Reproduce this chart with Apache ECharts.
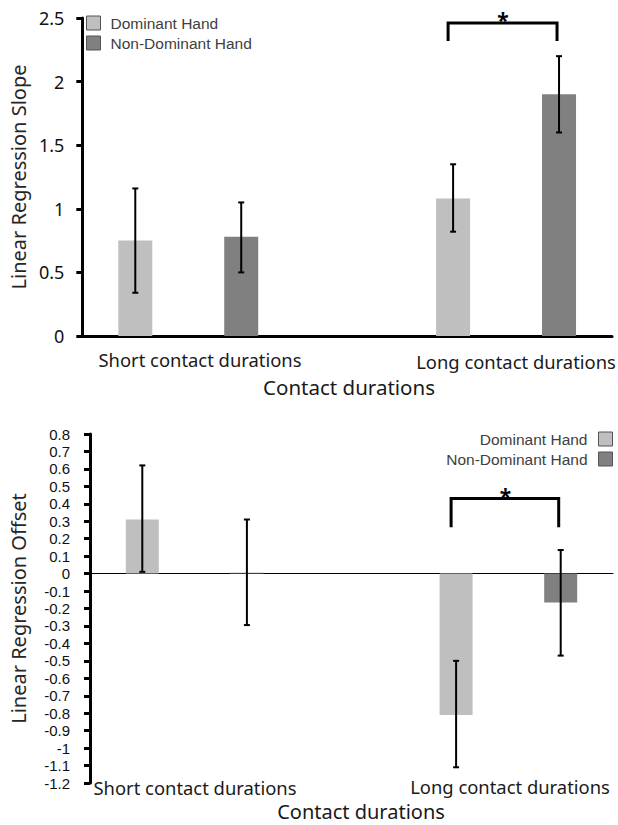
<!DOCTYPE html>
<html>
<head>
<meta charset="utf-8">
<script src="https://cdn.jsdelivr.net/npm/echarts@6/dist/echarts.min.js"></script>
<style>
  html, body { margin: 0; padding: 0; background: #fff; }
  #chart { width: 618px; height: 825px; }
</style>
</head>
<body>
<div id="chart"></div>
<script>
// five slots on the x axis: two bars per group with an empty slot between groups
const slots = ['shortDom', 'shortNonDom', 'gap', 'longDom', 'longNonDom'];

const slopeDominant = [0.75, null, null, 1.08, null];
const slopeNonDominant = [null, 0.78, null, null, 1.9];
const slopeErr = [[0, 0.34, 1.16], [1, 0.50, 1.05], [3, 0.82, 1.35], [4, 1.60, 2.20]];
const slopeBracket = [[3, 4, 2.46, 2.32]];

const offsetDominant = [0.31, null, null, -0.81, null];
const offsetNonDominant = [null, 0.005, null, null, -0.165];
const offsetErr = [[0, 0.01, 0.62], [1, -0.295, 0.31], [3, -1.11, -0.50], [4, -0.47, 0.135]];
const offsetBracket = [[3, 4, 0.43, 0.265]];

const FONT = 'Noto Sans';
const TIGHT = 'Liberation Sans';
const LIGHT = '#bfbfbf';
const DARK = '#808080';

function errorBar(params, api) {
  const x = api.value(0);
  const lo = api.coord([x, api.value(1)]);
  const hi = api.coord([x, api.value(2)]);
  const cap = 3;
  const style = { stroke: '#000', lineWidth: 2 };
  return {
    type: 'group',
    children: [
      { type: 'line', shape: { x1: lo[0], y1: lo[1], x2: hi[0], y2: hi[1] }, style },
      { type: 'line', shape: { x1: lo[0] - cap, y1: lo[1], x2: lo[0] + cap, y2: lo[1] }, style },
      { type: 'line', shape: { x1: hi[0] - cap, y1: hi[1], x2: hi[0] + cap, y2: hi[1] }, style }
    ]
  };
}

function bracket(params, api) {
  const a = api.coord([api.value(0), api.value(2)]);
  const b = api.coord([api.value(1), api.value(2)]);
  const bottom = api.coord([api.value(0), api.value(3)])[1];
  return {
    type: 'group',
    children: [
      {
        type: 'polyline',
        shape: { points: [[a[0] - 5, bottom], [a[0] - 5, a[1]], [b[0] - 2, b[1]], [b[0] - 2, bottom]] },
        style: { stroke: '#000', lineWidth: 3, fill: null }
      },
      {
        type: 'text',
        style: {
          text: '*', x: (a[0] + b[0]) / 2 - 3, y: a[1] - 3,
          font: 'bold 21px ' + FONT, fill: '#000', align: 'center', verticalAlign: 'middle'
        }
      }
    ]
  };
}

const chart = echarts.init(document.getElementById('chart'), null, { renderer: 'svg' });

const legendText = { color: '#404040', fontSize: 15.5, fontFamily: TIGHT, lineHeight: 15 };

function label(text, x, y, size) {
  return {
    type: 'text', x, y,
    style: { text, font: size + 'px ' + FONT, fill: '#1a1a1a', align: 'center', verticalAlign: 'middle' }
  };
}

chart.setOption({
  animation: false,
  textStyle: { fontFamily: FONT },
  legend: [
    {
      orient: 'vertical', left: 86, top: 15, itemGap: 4, itemWidth: 14, itemHeight: 14,
      icon: 'rect', padding: 0,
      itemStyle: { borderColor: '#555', borderWidth: 1 },
      textStyle: Object.assign({}, legendText, { padding: [0, 0, 0, 5] }),
      data: ['Dominant Hand', 'Non-Dominant Hand']
    },
    {
      orient: 'vertical', right: 5, top: 431, itemGap: 4, itemWidth: 14, itemHeight: 14,
      icon: 'rect', align: 'right', padding: 0,
      itemStyle: { borderColor: '#555', borderWidth: 1 },
      textStyle: Object.assign({}, legendText, { padding: [0, 6, 0, 0] }),
      data: ['Dominant Hand', 'Non-Dominant Hand']
    }
  ],
  grid: [
    { left: 80, top: 18, width: 532, height: 318 },
    { left: 89, top: 434, width: 524, height: 349 }
  ],
  xAxis: [
    {
      type: 'category', gridIndex: 0, data: slots,
      axisLine: { lineStyle: { color: '#000', width: 3 } },
      axisTick: { show: false }, axisLabel: { show: false }
    },
    {
      type: 'category', gridIndex: 1, data: slots,
      axisLine: { onZero: true, lineStyle: { color: '#000', width: 1 } },
      axisTick: { show: false }, axisLabel: { show: false }
    }
  ],
  yAxis: [
    {
      type: 'value', gridIndex: 0, min: 0, max: 2.5, interval: 0.5,
      name: 'Linear Regression Slope', nameLocation: 'middle', nameGap: 54, nameRotate: 90,
      nameTextStyle: { color: '#262626', fontSize: 20, fontFamily: FONT },
      axisLine: { show: true, lineStyle: { color: '#000', width: 3 } },
      axisTick: { show: true, length: 6, lineStyle: { color: '#000', width: 3 } },
      splitLine: { show: false },
      axisLabel: { color: '#111', fontFamily: FONT, fontSize: 18, margin: 18 }
    },
    {
      type: 'value', gridIndex: 1, min: -1.2, max: 0.8, interval: 0.1,
      name: 'Linear Regression Offset', nameLocation: 'middle', nameGap: 62, nameRotate: 90,
      nameTextStyle: { color: '#262626', fontSize: 20, fontFamily: FONT },
      axisLine: { show: true, onZero: false, lineStyle: { color: '#000', width: 3 } },
      axisTick: { show: true, length: 6, lineStyle: { color: '#000', width: 3 } },
      splitLine: { show: false },
      axisLabel: {
        color: '#111', fontFamily: TIGHT, fontSize: 15, lineHeight: 15, margin: 20,
        formatter: v => String(parseFloat(v.toFixed(1)))
      }
    }
  ],
  series: [
    { name: 'Dominant Hand', type: 'bar', xAxisIndex: 0, yAxisIndex: 0, data: slopeDominant,
      barWidth: 34, barGap: '-100%', itemStyle: { color: LIGHT } },
    { name: 'Non-Dominant Hand', type: 'bar', xAxisIndex: 0, yAxisIndex: 0, data: slopeNonDominant,
      barWidth: 34, barGap: '-100%', itemStyle: { color: DARK } },
    { type: 'custom', xAxisIndex: 0, yAxisIndex: 0, data: slopeErr, renderItem: errorBar, z: 5 },
    { type: 'custom', xAxisIndex: 0, yAxisIndex: 0, data: slopeBracket, renderItem: bracket, z: 5 },

    { name: 'Dominant Hand', type: 'bar', xAxisIndex: 1, yAxisIndex: 1, data: offsetDominant,
      barWidth: 33, barGap: '-100%', itemStyle: { color: LIGHT } },
    { name: 'Non-Dominant Hand', type: 'bar', xAxisIndex: 1, yAxisIndex: 1, data: offsetNonDominant,
      barWidth: 33, barGap: '-100%', itemStyle: { color: DARK } },
    { type: 'custom', xAxisIndex: 1, yAxisIndex: 1, data: offsetErr, renderItem: errorBar, z: 5 },
    { type: 'custom', xAxisIndex: 1, yAxisIndex: 1, data: offsetBracket, renderItem: bracket, z: 5 }
  ],
  graphic: [
    label('Short contact durations', 200, 359, 18.4),
    label('Long contact durations', 516, 361, 18.4),
    label('Contact durations', 349, 387, 20.5),
    label('Short contact durations', 195, 787, 18.4),
    label('Long contact durations', 510, 786, 18.4),
    label('Contact durations', 361, 811, 20)
  ]
});
</script>
</body>
</html>
